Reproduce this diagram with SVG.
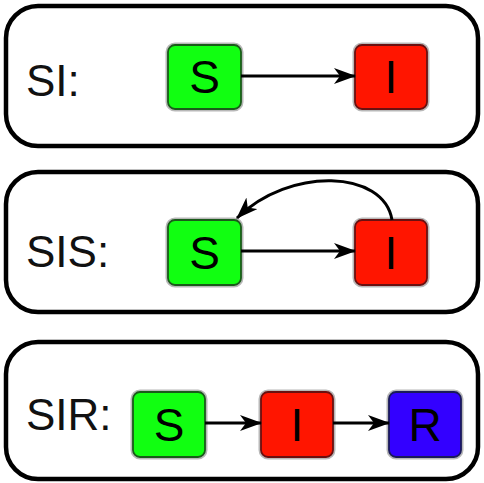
<svg xmlns="http://www.w3.org/2000/svg" width="484" height="483" viewBox="0 0 484 483">
<style>
.panel{fill:#fff;stroke:#000;stroke-width:4.5}
.lbl{font-family:"Liberation Sans",Arial,sans-serif;font-size:44px;fill:#111}
.nl{font-family:"Liberation Sans",Arial,sans-serif;font-size:46px;fill:#000;text-anchor:middle}
.halo{fill:none;stroke:#888;stroke-width:5;opacity:0.6}
.s{fill:#11ff11;stroke:#1a5a1a;stroke-width:1.8}
.i{fill:#ff1500;stroke:#6a1010;stroke-width:1.8}
.r{fill:#3300ff;stroke:#1a1a5a;stroke-width:1.8}
.edge{fill:none;stroke:#000;stroke-width:3;marker-end:url(#ah)}
</style>
<defs>
<marker id="ah" viewBox="0 0 22 16" refX="21" refY="8" markerWidth="22" markerHeight="16" markerUnits="userSpaceOnUse" orient="auto">
<path d="M0,0 L22,8 L0,16 L6,8 z" fill="#000"/>
</marker>
</defs>
<g id="panel-si">
<rect class="panel" x="6" y="6" width="472" height="140" rx="32"/>
<text class="lbl" x="26" y="96">SI:</text>
</g>
<g id="panel-sis">
<rect class="panel" x="6" y="172" width="472" height="140" rx="32"/>
<text class="lbl" x="26" y="267">SIS:</text>
</g>
<g id="panel-sir">
<rect class="panel" x="6" y="342" width="472" height="137" rx="32"/>
<text class="lbl" x="26" y="430">SIR:</text>
</g>
<g id="si-S"><rect class="halo" x="168" y="45" width="73" height="64" rx="7"/><rect class="s" x="168" y="45" width="73" height="64" rx="7"/><text class="nl" x="204.5" y="93">S</text></g>
<g id="si-I"><rect class="halo" x="355" y="45" width="72" height="64" rx="7"/><rect class="i" x="355" y="45" width="72" height="64" rx="7"/><text class="nl" x="391" y="93">I</text></g>
<g id="sis-S"><rect class="halo" x="168" y="220" width="73" height="65" rx="7"/><rect class="s" x="168" y="220" width="73" height="65" rx="7"/><text class="nl" x="204.5" y="269">S</text></g>
<g id="sis-I"><rect class="halo" x="355" y="220" width="72" height="65" rx="7"/><rect class="i" x="355" y="220" width="72" height="65" rx="7"/><text class="nl" x="391" y="269">I</text></g>
<g id="sir-S"><rect class="halo" x="133" y="392" width="72" height="65" rx="7"/><rect class="s" x="133" y="392" width="72" height="65" rx="7"/><text class="nl" x="169" y="441">S</text></g>
<g id="sir-I"><rect class="halo" x="261" y="392" width="72" height="65" rx="7"/><rect class="i" x="261" y="392" width="72" height="65" rx="7"/><text class="nl" x="297" y="441">I</text></g>
<g id="sir-R"><rect class="halo" x="389" y="392" width="72" height="65" rx="7"/><rect class="r" x="389" y="392" width="72" height="65" rx="7"/><text class="nl" x="425" y="441">R</text></g>
<g id="connectors">
<path class="edge" d="M241,76 L355,76"/>
<path class="edge" d="M241,251 L355,251"/>
<path class="edge" d="M392,220 C384,170 290,166 237,218"/>
<path class="edge" d="M205,423 L261,423"/>
<path class="edge" d="M333,423 L389,423"/>
</g>
</svg>
